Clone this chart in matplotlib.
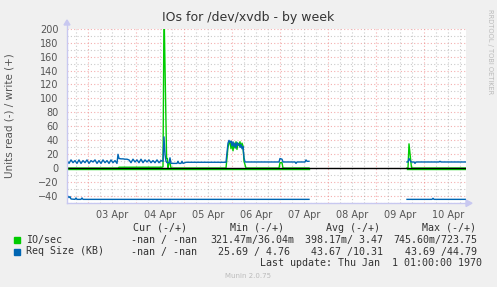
import numpy as np
import matplotlib
matplotlib.use("Agg")
import matplotlib.pyplot as plt

# ---------------- data (hours since graph start, values) ----------------
# write request size (KB), segment 1 (hours 0..121) and segment 2 (170..199.5)
req_w_t1 = list(range(0, 26)) + [25.5, 26, 27, 28, 29, 30] + list(range(31, 48)) + \
    [48, 48.5, 49, 49.5, 50, 51, 51.5, 52, 53, 55, 55.5, 56, 57, 57.5, 58, 59.5,
     79.5, 80.5, 81, 81.5, 82, 82.5, 83, 83.5, 84, 84.5, 85, 85.5, 86, 86.5, 87, 87.5, 88, 88.5, 89,
     106, 106.5, 107.5, 108, 114, 114.5, 115, 119, 119.5, 120, 121]
req_w_v1 = [11, 7, 12, 8, 11, 7, 12, 7, 11, 8, 12, 7, 11, 9, 12, 7, 11, 7, 12, 8, 11, 7, 12, 8, 11, 7] + \
    [20, 14, 13.5, 13.5, 13, 13] + \
    [12, 8, 13, 9, 12, 8, 13, 8, 12, 9, 12, 8, 11, 8, 12, 8, 11] + \
    [10, 45, 20, 10, 8, 8, 15, 7, 7, 7, 10, 7, 7, 10, 7, 8.6,
     8.6, 36, 40, 37, 39, 32, 38, 31, 36, 29, 37, 33, 35, 30, 34, 28, 31, 15, 9,
     9, 14, 13, 9, 9, 7, 9, 9, 12, 10, 10]
req_w_t2 = [170, 170.5, 171, 172, 173.5, 174, 174.5, 186, 186.5, 187, 199.5]
req_w_v2 = [9, 9, 14, 9, 9, 7, 9, 9, 10, 9, 9]

# write IO/sec
io_w_t1 = [0, 25.5, 26, 47.5, 48, 48.5, 49.8, 50.2, 50.5, 51, 51.5, 52, 52.5,
           79.5, 80.5, 81, 81.5, 82, 82.5, 83, 83.5, 84, 84.5, 85, 85.5, 86, 86.5, 87, 87.5, 88, 88.5, 89.5,
           106, 106.5, 107.5, 108, 121]
io_w_v1 = [0.3, 0.3, 1.5, 1.5, 2, 230, 14, 14, 0.3, 8, 8, 0.3, 0.3,
           0.3, 30, 36, 38, 28, 37, 25, 36, 29, 38, 27, 36, 33, 38, 30, 36, 32, 10, 0.3,
           0.3, 8, 8, 0.3, 0.3]
io_w_t2 = [170, 170.5, 171, 172.2, 172.5, 199.5]
io_w_v2 = [0.3, 0.3, 35, 2, 0.3, 0.3]

# read request size (KB), drawn negative
req_r_t1 = [0, 0.5, 1, 1.5, 2, 4, 4.5, 5, 7, 7.5, 8, 121]
req_r_v1 = [43, 40, 42, 40.5, 44, 44.5, 42.5, 44.5, 44.5, 42.5, 44.5, 44.5]
req_r_t2 = [170, 182.5, 183, 183.5, 199.5]
req_r_v2 = [44.5, 44.5, 43, 44.5, 44.5]

# read IO/sec, drawn negative
io_r_t1 = [0, 121]
io_r_v1 = [0.4, 0.4]
io_r_t2 = [170, 199.5]
io_r_v2 = [0.4, 0.4]

day_labels = ["03 Apr", "04 Apr", "05 Apr", "06 Apr", "07 Apr", "08 Apr", "09 Apr", "10 Apr"]
first_midnight = 10.5  # hours after graph start

legend_rows = [
    ("IO/sec", "#00CC00", "-nan / -nan", "321.47m/36.04m", "398.17m/ 3.47", "745.60m/723.75"),
    ("Req Size (KB)", "#0066B3", "-nan / -nan", "25.69 / 4.76", "43.67 /10.31", "43.69 /44.79"),
]

# ---------------- figure ----------------
W, H = 497, 287
fig = plt.figure(figsize=(W / 100, H / 100), dpi=100, facecolor="#F0F0F0")


def fx(x):
    return x / W


def fy(y):
    return 1 - y / H


ax_left, ax_right = 67, 466
y_top, y_bot = 28.6, 203.2
ax = fig.add_axes([fx(ax_left), fy(y_bot), (ax_right - ax_left) / W, (y_bot - y_top) / H])
ax.set_facecolor("white")
ax.set_xlim(0, 199.5)
ax.set_ylim(-50, 200)
for s in ax.spines.values():
    s.set_visible(False)

# grid
minor_col = (0.55, 0.55, 0.55, 0.45)
major_col = (0.9, 0.3, 0.3, 0.45)
for yv in range(-50, 201, 10):
    col = major_col if yv % 20 == 0 else minor_col
    ax.axhline(yv, color=col, lw=0.8, ls=(0, (1, 2)), zorder=1)
for hv in np.arange(first_midnight - 6, 200, 6):
    col = major_col if abs((hv - first_midnight) % 24) < 1e-6 else minor_col
    ax.axvline(hv, color=col, lw=0.8, ls=(0, (1, 2)), zorder=1)

# series
green = "#00CC00"
blue = "#0066B3"
ax.plot(io_r_t1, [-v for v in io_r_v1], color=green, lw=1, zorder=2)
ax.plot(io_r_t2, [-v for v in io_r_v2], color=green, lw=1, zorder=2)
ax.plot(io_w_t1, io_w_v1, color=green, lw=1, zorder=3)
ax.plot(io_w_t2, io_w_v2, color=green, lw=1, zorder=3)
ax.axhline(0, color="black", lw=1, zorder=4)
ax.plot(req_w_t1, req_w_v1, color=blue, lw=1, zorder=5)
ax.plot(req_w_t2, req_w_v2, color=blue, lw=1, zorder=5)
ax.plot(req_r_t1, [-v for v in req_r_v1], color=blue, lw=1, zorder=5)
ax.plot(req_r_t2, [-v for v in req_r_v2], color=blue, lw=1, zorder=5)

# ticks
ax.set_yticks(range(-40, 201, 20))
ax.tick_params(axis="y", length=0, pad=6, labelsize=7, labelcolor="#555555")
ax.set_xticks([first_midnight + 12 + 24 * i for i in range(len(day_labels))])
ax.set_xticklabels(day_labels)
ax.tick_params(axis="x", length=0, pad=5, labelsize=7, labelcolor="#555555")

# axis arrows
axis_col = "#C8C8F0"
fig.add_artist(plt.Line2D([fx(ax_left), fx(ax_left)], [fy(y_bot), fy(24)], color=axis_col, lw=1))
fig.add_artist(plt.Line2D([fx(ax_left), fx(ax_right + 2)], [fy(y_bot), fy(y_bot)], color=axis_col, lw=1))
fig.add_artist(plt.Polygon([[fx(64), fy(25)], [fx(70), fy(25)], [fx(67), fy(20)]], closed=True,
                           color=axis_col, transform=fig.transFigure))
fig.add_artist(plt.Polygon([[fx(466), fy(200)], [fx(466), fy(206.5)], [fx(472), fy(203.2)]], closed=True,
                           color=axis_col, transform=fig.transFigure))

# titles
fig.text(fx(248), fy(18), "IOs for /dev/xvdb - by week", ha="center", va="center", fontsize=9, color="#333333")
fig.text(fx(10), fy(116), "Units read (-) / write (+)", rotation=90, ha="center", va="center",
         fontsize=7.5, color="#555555")
fig.text(fx(490), fy(52), "RRDTOOL / TOBI OETIKER", rotation=270, ha="center", va="center",
         fontsize=4.8, color="#BBBBBB")

# legend
mono = "DejaVu Sans Mono"
fs = 7.2
tc = "#333333"
heads = [("Cur (-/+)", 187), ("Min (-/+)", 284), ("Avg (-/+)", 380), ("Max (-/+)", 476)]
for t, xr in heads:
    fig.text(fx(xr), fy(228), t, ha="right", va="center", family=mono, fontsize=fs, color=tc)
row_y = [239.5, 251.5]
for (name, col, cur, mn, avg, mx), yy in zip(legend_rows, row_y):
    fig.add_artist(plt.Rectangle((fx(14), fy(yy + 3)), 5.5 / W, 5.5 / H, color=col, transform=fig.transFigure))
    fig.text(fx(26), fy(yy), name, ha="left", va="center", family=mono, fontsize=fs, color=tc)
    fig.text(fx(197), fy(yy), cur, ha="right", va="center", family=mono, fontsize=fs, color=tc)
    fig.text(fx(294 if yy < 245 else 290), fy(yy), mn, ha="right", va="center", family=mono, fontsize=fs, color=tc)
    fig.text(fx(383), fy(yy), avg, ha="right", va="center", family=mono, fontsize=fs, color=tc)
    fig.text(fx(477), fy(yy), mx, ha="right", va="center", family=mono, fontsize=fs, color=tc)
fig.text(fx(482), fy(263.5), "Last update: Thu Jan  1 01:00:00 1970", ha="right", va="center",
         family=mono, fontsize=fs, color=tc)
fig.text(fx(248), fy(276), "Munin 2.0.75", ha="center", va="center", fontsize=5, color="#BBBBBB")

fig.savefig("out.png", dpi=100, facecolor=fig.get_facecolor())
